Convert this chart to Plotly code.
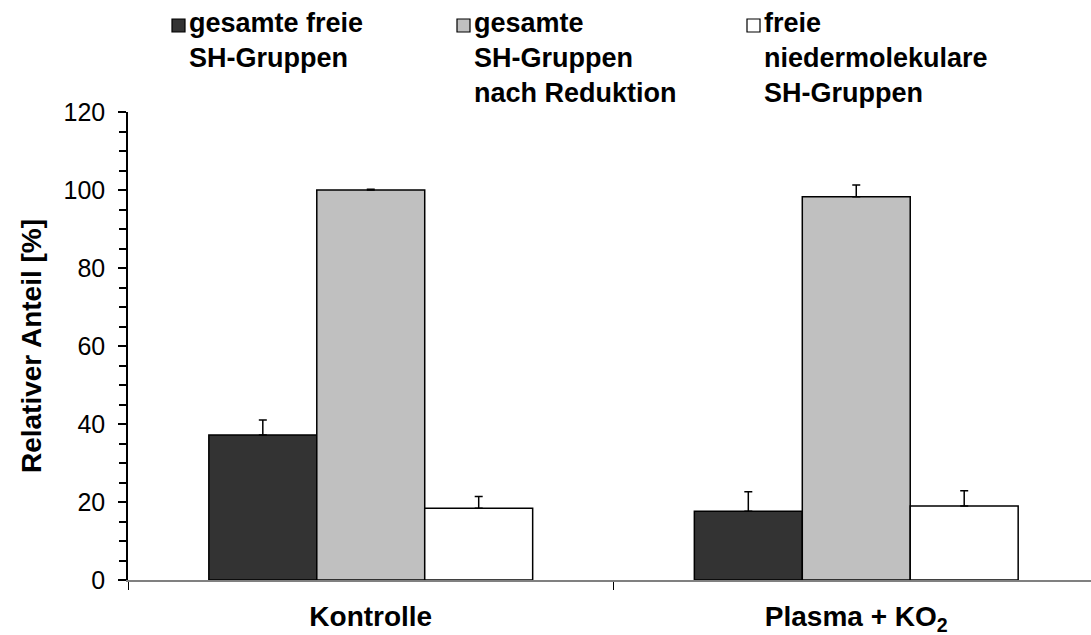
import plotly.graph_objects as go

categories = ["Kontrolle", "Plasma + KO<sub>2</sub>"]

series_names = [
    "gesamte freie<br>SH-Gruppen",
    "gesamte<br>SH-Gruppen<br>nach Reduktion",
    "freie<br>niedermolekulare<br>SH-Gruppen",
]
free_sh = [37.2, 17.6]
free_sh_err = [3.8, 5.0]
total_sh_reduced = [100.0, 98.3]
total_sh_reduced_err = [0.2, 3.0]
free_lmw_sh = [18.4, 19.0]
free_lmw_sh_err = [3.0, 3.9]

fill_colors = ["#333333", "#C0C0C0", "#FFFFFF"]

y_ticks = [0, 20, 40, 60, 80, 100, 120]

FONT = "Liberation Sans, Arial, sans-serif"
W, H = 1091, 635

fig = go.Figure()
for name, vals, errs, col in zip(
    series_names,
    [free_sh, total_sh_reduced, free_lmw_sh],
    [free_sh_err, total_sh_reduced_err, free_lmw_sh_err],
    fill_colors,
):
    fig.add_trace(go.Bar(
        x=categories, y=vals, name=name, showlegend=False,
        marker=dict(color=col, line=dict(color="#000000", width=1.5)),
        error_y=dict(type="data", array=errs, arrayminus=[0] * len(errs),
                     symmetric=False, color="#000000", thickness=1.5, width=4),
    ))

# Legend row across the top: a filled key square followed by a bold label.
legend_left = [172, 457, 747]
key_size = 13
for x0, name, col in zip(legend_left, series_names, fill_colors):
    fig.add_shape(
        type="rect", xref="paper", yref="paper",
        x0=(x0 - 128) / (W - 128), x1=(x0 + key_size - 128) / (W - 128),
        y0=1 + (112 - 19 - key_size) / 468, y1=1 + (112 - 19) / 468,
        fillcolor=col, line=dict(color="#000000", width=1.2),
    )
    fig.add_annotation(
        text=name, xref="paper", yref="paper",
        x=(x0 + key_size + 2 - 128) / (W - 128), y=1 + (112 - 6) / 468,
        xanchor="left", yanchor="top", align="left", showarrow=False,
        font=dict(family=FONT, size=27, color="#000000", weight="bold"),
    )

fig.update_layout(
    width=W, height=H,
    margin=dict(l=128, r=0, t=112, b=55),
    paper_bgcolor="white", plot_bgcolor="white",
    barmode="group", bargap=0.333, bargroupgap=0,
    font=dict(family=FONT, size=25, color="#000000"),
    xaxis=dict(
        range=[-0.5, 1.4835], showline=True, linecolor="#808080", linewidth=1.5,
        ticks="outside", tickson="boundaries", ticklen=8, tickcolor="#000000",
        tickwidth=1, showgrid=False, zeroline=False, ticklabelstandoff=11,
        tickfont=dict(family=FONT, size=28, color="#000000", weight="bold"),
    ),
    yaxis=dict(
        range=[0, 120], tickvals=y_ticks, showline=True, linecolor="#000000",
        linewidth=1.5, ticks="outside", ticklen=8, tickwidth=1.5,
        tickcolor="#000000", showgrid=False, zeroline=False,
        ticklabelstandoff=8,
        minor=dict(dtick=5, ticks="outside", ticklen=7, tickwidth=1.5,
                   tickcolor="#000000", showgrid=False),
        tickfont=dict(family=FONT, size=25, color="#000000"),
        title=dict(text="Relativer Anteil [%]", standoff=14,
                   font=dict(family=FONT, size=28, color="#000000", weight="bold")),
    ),
)

fig.write_html("out.html")
